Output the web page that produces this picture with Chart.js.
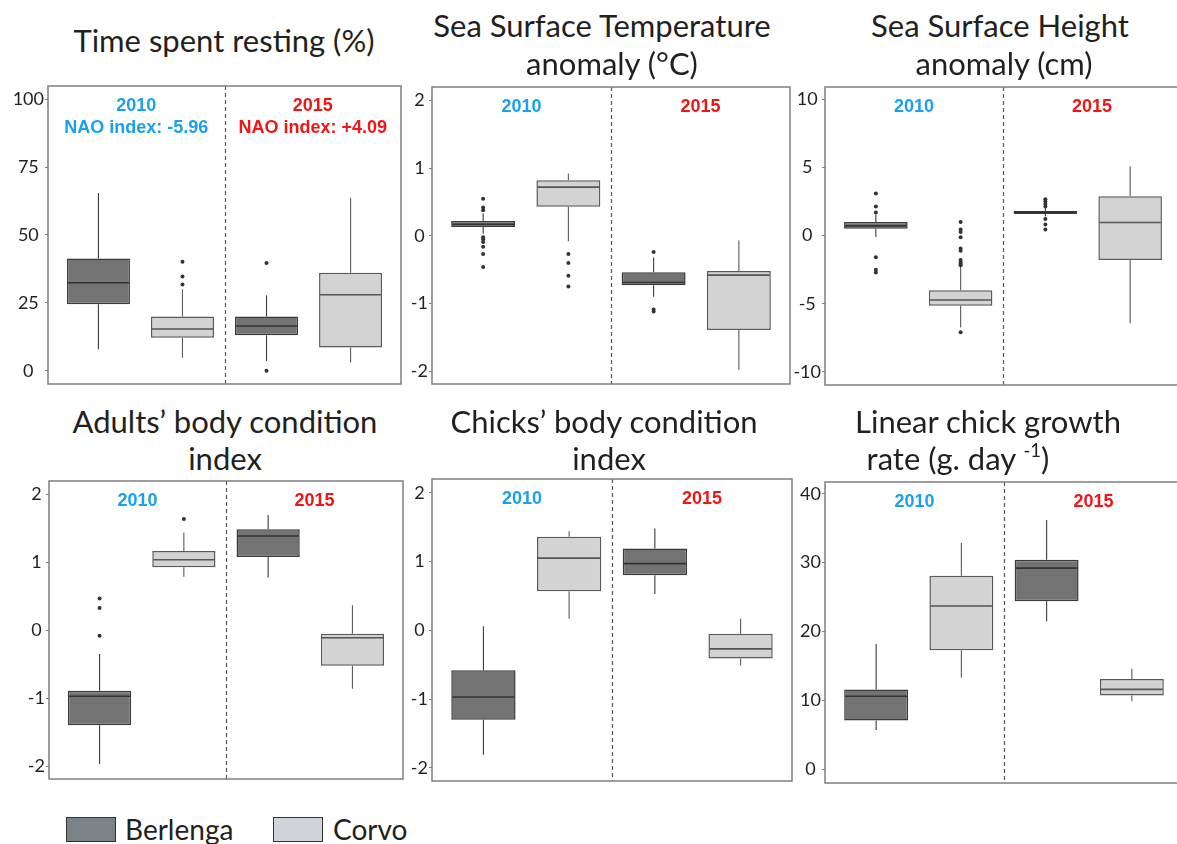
<!DOCTYPE html>
<html>
<head>
<meta charset="utf-8">
<script src="https://cdn.jsdelivr.net/npm/chart.js@4.4.1/dist/chart.umd.min.js"></script>
<style>
  html, body { margin: 0; padding: 0; background: #fff; }
  body { width: 1177px; height: 844px; position: relative; overflow: hidden; font-family: Lato, "Open Sans", sans-serif; color: #231f20; }
  .panel { position: absolute; }
  .panel canvas { display: block; }
  .title { position: absolute; width: 420px; text-align: center; white-space: nowrap; font-size: 31px; line-height: 31px; }
  .title sup { font-size: 60%; line-height: 0; vertical-align: 0.7em; }
  .swatch { position: absolute; width: 50px; height: 25px; box-sizing: border-box; border: 1.5px solid #333; }
  .legend-text { position: absolute; font-size: 28px; line-height: 28px; white-space: nowrap; }
</style>
</head>
<body>
<div id="root"></div>
<script>
(function () {
  // groups along each panel's x axis
  const groups = ["Berlenga 2010", "Corvo 2010", "Berlenga 2015", "Corvo 2015"];
  const groupSite = ["Berlenga", "Corvo", "Berlenga", "Corvo"];
  const groupPos = [1, 2, 3, 4];
  const yearLabels = ["2010", "2015"];
  const naoLabels = ["NAO index: -5.96", "NAO index: +4.09"];

  // each row: lower whisker, Q1, median, Q3, upper whisker (one row per group)
  const restBoxes = [
    [8.0, 24.5, 32.4, 41.3, 65.4],
    [4.8, 12.2, 15.4, 20.0, 30.0],
    [3.6, 13.1, 16.5, 20.0, 27.8],
    [3.1, 8.6, 28.0, 36.1, 63.7]
  ];
  const restOutliers = [[], [40.1, 34.7, 31.8], [39.7, 0], []];
  const restTicks = [0, 25, 50, 75, 100];

  const sstBoxes = [
    [0.03, 0.13, 0.17, 0.22, 0.33],
    [-0.08, 0.43, 0.72, 0.82, 0.92],
    [-0.90, -0.73, -0.69, -0.54, -0.32],
    [-1.98, -1.39, -0.58, -0.52, -0.07]
  ];
  const sstOutliers = [
    [0.55, 0.42, 0.38, -0.02, -0.05, -0.09, -0.16, -0.27, -0.46],
    [-0.27, -0.40, -0.59, -0.75],
    [-0.24, -1.09, -1.12],
    []
  ];
  const sstTicks = [-2, -1, 0, 1, 2];

  const sshBoxes = [
    [-0.1, 0.51, 0.72, 1.01, 1.55],
    [-6.74, -5.14, -4.73, -4.01, -2.27],
    [1.40, 1.59, 1.71, 1.81, 2.05],
    [-6.43, -1.79, 0.97, 2.90, 5.10]
  ];
  const sshOutliers = [
    [3.09, 2.15, 1.71, -1.59, -2.51, -2.70],
    [1.01, 0.46, 0.27, -0.12, -0.94, -1.11, -1.79, -1.98, -2.08, -2.17, -7.10],
    [2.68, 2.51, 2.32, 2.15, 1.23, 0.82, 0.46],
    []
  ];
  const sshTicks = [-10, -5, 0, 5, 10];

  const adultBoxes = [
    [-1.97, -1.40, -0.97, -0.89, -0.35],
    [0.79, 0.93, 1.04, 1.17, 1.44],
    [0.78, 1.08, 1.39, 1.49, 1.70],
    [-0.86, -0.52, -0.11, -0.05, 0.37]
  ];
  const adultOutliers = [[0.47, 0.33, -0.08], [1.64], [], []];
  const adultTicks = [-2, -1, 0, 1, 2];

  const chickBoxes = [
    [-1.81, -1.30, -0.97, -0.58, 0.06],
    [0.17, 0.57, 1.05, 1.36, 1.44],
    [0.53, 0.80, 0.97, 1.19, 1.48],
    [-0.51, -0.41, -0.27, -0.05, 0.17]
  ];
  const chickOutliers = [[], [], [], []];
  const chickTicks = [-2, -1, 0, 1, 2];

  const growthBoxes = [
    [5.7, 7.1, 10.6, 11.6, 18.2],
    [13.3, 17.3, 23.7, 28.1, 32.9],
    [21.5, 24.4, 29.2, 30.4, 36.2],
    [9.9, 10.7, 11.6, 13.1, 14.6]
  ];
  const growthOutliers = [[], [], [], []];
  const growthTicks = [0, 10, 20, 30, 40];

  const xMin = 0.4;
  const xMax = 4.6;
  const dividerPos = 2.5;

  const siteFill = { Berlenga: "#737373", Corvo: "#d3d3d3" };
  const siteStroke = { Berlenga: "#3a3a3a", Corvo: "#5a5a5a" };
  const siteMedian = { Berlenga: "#333333", Corvo: "#555555" };
  const yearColors = ["#1aa0f0", "#f21515"];

  // rect: plot area left, top, right, bottom (px); titles: text, centre x, baseline y
  const panels = [
    { boxes: restBoxes, outliers: restOutliers, ticks: restTicks, yMin: -4.83, yMax: 104.8, nao: true,
      rect: [48, 84, 403, 386], titles: [["Time spent resting (%)", 224, 52]] },
    { boxes: sstBoxes, outliers: sstOutliers, ticks: sstTicks, yMin: -2.19, yMax: 2.2,
      rect: [432, 85, 792, 386], titles: [["Sea Surface Temperature", 602, 37], ["anomaly (°C)", 612, 75]] },
    { boxes: sshBoxes, outliers: sshOutliers, ticks: sshTicks, yMin: -10.97, yMax: 10.92,
      rect: [825, 85, 1183, 387], titles: [["Sea Surface Height", 1000, 37], ["anomaly (cm)", 1004, 75]] },
    { boxes: adultBoxes, outliers: adultOutliers, ticks: adultTicks, yMin: -2.19, yMax: 2.2,
      rect: [49, 479, 405, 781], titles: [["Adults’ body condition", 225, 433], ["index", 225, 470]] },
    { boxes: chickBoxes, outliers: chickOutliers, ticks: chickTicks, yMin: -2.19, yMax: 2.2,
      rect: [432, 479, 792, 781], titles: [["Chicks’ body condition", 604, 433], ["index", 609, 470]] },
    { boxes: growthBoxes, outliers: growthOutliers, ticks: growthTicks, yMin: -1.98, yMax: 41.7,
      rect: [825, 482, 1183, 783], titles: [["Linear chick growth", 988, 433], ["rate (g. day <sup>-1</sup>)", 958, 470]] }
  ];

  const root = document.getElementById("root");
  const axisW = 48;
  const pad = 2;
  const titleSize = 31;

  function strokeLine(ctx, x1, y1, x2, y2) {
    ctx.beginPath();
    ctx.moveTo(x1, y1);
    ctx.lineTo(x2, y2);
    ctx.stroke();
  }

  function makeExtras(panel) {
    return {
      id: "boxExtras",
      beforeDatasetsDraw: function (chart) {
        const ctx = chart.ctx;
        const area = chart.chartArea;
        const xs = chart.scales.x;
        const ys = chart.scales.y;

        ctx.save();
        ctx.strokeStyle = "#555";
        ctx.lineWidth = 1.2;
        ctx.setLineDash([4, 3]);
        const dx = Math.round(xs.getPixelForValue(dividerPos)) + 0.5;
        strokeLine(ctx, dx, area.top, dx, area.bottom);
        ctx.restore();

        // whiskers sit behind the boxes
        ctx.save();
        ctx.lineWidth = 1.1;
        chart.data.datasets.forEach(function (ds, d) {
          if (ds.type !== "bar") {
            return;
          }
          chart.getDatasetMeta(d).data.forEach(function (bar, j) {
            const row = panel.boxes[ds.data[j].box];
            ctx.strokeStyle = siteStroke[ds.label];
            strokeLine(ctx, bar.x, ys.getPixelForValue(row[3]), bar.x, ys.getPixelForValue(row[4]));
            strokeLine(ctx, bar.x, ys.getPixelForValue(row[1]), bar.x, ys.getPixelForValue(row[0]));
          });
        });
        ctx.restore();
      },
      afterDatasetsDraw: function (chart) {
        const ctx = chart.ctx;
        const ys = chart.scales.y;
        ctx.save();
        ctx.lineWidth = 1.6;
        chart.data.datasets.forEach(function (ds, d) {
          if (ds.type !== "bar") {
            return;
          }
          chart.getDatasetMeta(d).data.forEach(function (bar, j) {
            const row = panel.boxes[ds.data[j].box];
            const my = ys.getPixelForValue(row[2]);
            ctx.strokeStyle = siteMedian[ds.label];
            strokeLine(ctx, bar.x - bar.width / 2 + 1, my, bar.x + bar.width / 2 - 1, my);
          });
        });
        ctx.restore();
      },
      afterDraw: function (chart) {
        const ctx = chart.ctx;
        const area = chart.chartArea;
        const xs = chart.scales.x;

        ctx.save();
        ctx.strokeStyle = "#7f7f7f";
        ctx.lineWidth = 1.5;
        ctx.strokeRect(area.left, area.top, area.right - area.left, area.bottom - area.top);

        ctx.font = "bold 18px 'Liberation Sans', Arial, sans-serif";
        ctx.textAlign = "center";
        ctx.textBaseline = "alphabetic";
        const halves = [(xMin + dividerPos) / 2, (dividerPos + xMax) / 2];
        halves.forEach(function (pos, k) {
          const cx = xs.getPixelForValue(pos);
          ctx.fillStyle = yearColors[k];
          ctx.fillText(yearLabels[k], cx, area.top + 25);
          if (panel.nao) {
            ctx.fillText(naoLabels[k], cx, area.top + 47);
          }
        });
        ctx.restore();
      }
    };
  }

  function buildPanel(panel) {
    const left = panel.rect[0];
    const top = panel.rect[1];
    const right = panel.rect[2];
    const bottom = panel.rect[3];

    const wrap = document.createElement("div");
    wrap.className = "panel";
    wrap.style.left = (left - axisW) + "px";
    wrap.style.top = (top - pad) + "px";
    const canvas = document.createElement("canvas");
    canvas.width = right - left + axisW + pad;
    canvas.height = bottom - top + pad * 2;
    canvas.style.width = canvas.width + "px";
    canvas.style.height = canvas.height + "px";
    wrap.appendChild(canvas);
    root.appendChild(wrap);

    panel.titles.forEach(function (line) {
      const div = document.createElement("div");
      div.className = "title";
      div.innerHTML = line[0];
      div.style.left = (line[1] - 210) + "px";
      div.style.top = (line[2] - Math.round(titleSize * 0.887)) + "px";
      root.appendChild(div);
    });

    const datasets = ["Berlenga", "Corvo"].map(function (site) {
      const points = [];
      groups.forEach(function (g, i) {
        if (groupSite[i] === site) {
          points.push({ x: groupPos[i], y: [panel.boxes[i][1], panel.boxes[i][3]], box: i });
        }
      });
      return {
        type: "bar",
        label: site,
        data: points,
        backgroundColor: siteFill[site],
        borderColor: siteStroke[site],
        borderWidth: 1.5,
        borderSkipped: false,
        grouped: false,
        barPercentage: 0.75,
        categoryPercentage: 1,
        order: 1
      };
    });

    const outlierPoints = [];
    panel.outliers.forEach(function (vals, i) {
      vals.forEach(function (v) {
        outlierPoints.push({ x: groupPos[i], y: v });
      });
    });
    datasets.push({
      type: "scatter",
      label: "outliers",
      data: outlierPoints,
      pointRadius: 2,
      pointBackgroundColor: "#333",
      pointBorderWidth: 0,
      order: 0
    });

    new Chart(canvas.getContext("2d"), {
      type: "bar",
      data: { datasets: datasets },
      options: {
        responsive: false,
        animation: false,
        events: [],
        layout: { padding: { top: pad, right: pad, bottom: pad, left: 0 } },
        plugins: { legend: { display: false }, tooltip: { enabled: false } },
        scales: {
          x: {
            type: "linear",
            min: xMin,
            max: xMax,
            offset: false,
            display: false,
            afterBuildTicks: function (scale) {
              scale.ticks = groupPos.map(function (v) { return { value: v }; });
            }
          },
          y: {
            type: "linear",
            min: panel.yMin,
            max: panel.yMax,
            border: { display: false },
            grid: { display: true, drawOnChartArea: false, drawTicks: true, tickLength: 3, color: "#7f7f7f" },
            ticks: { crossAlign: "center", padding: 1, color: "#231f20", font: { family: "Lato", size: 18 } },
            afterBuildTicks: function (scale) {
              scale.ticks = panel.ticks.map(function (v) { return { value: v }; });
            },
            afterFit: function (scale) {
              scale.width = axisW;
              scale.paddingTop = 0;
              scale.paddingBottom = 0;
            }
          }
        }
      },
      plugins: [makeExtras(panel)]
    });
  }

  panels.forEach(buildPanel);

  // legend
  const legendItems = [
    { label: "Berlenga", fill: "#7b8388", swatchX: 66, textX: 125 },
    { label: "Corvo", fill: "#d0d4da", swatchX: 273, textX: 333 }
  ];
  legendItems.forEach(function (item) {
    const sw = document.createElement("div");
    sw.className = "swatch";
    sw.style.left = item.swatchX + "px";
    sw.style.top = "817px";
    sw.style.background = item.fill;
    root.appendChild(sw);
    const tx = document.createElement("div");
    tx.className = "legend-text";
    tx.textContent = item.label;
    tx.style.left = item.textX + "px";
    tx.style.top = (840 - Math.round(28 * 0.887)) + "px";
    root.appendChild(tx);
  });
})();
</script>
</body>
</html>
